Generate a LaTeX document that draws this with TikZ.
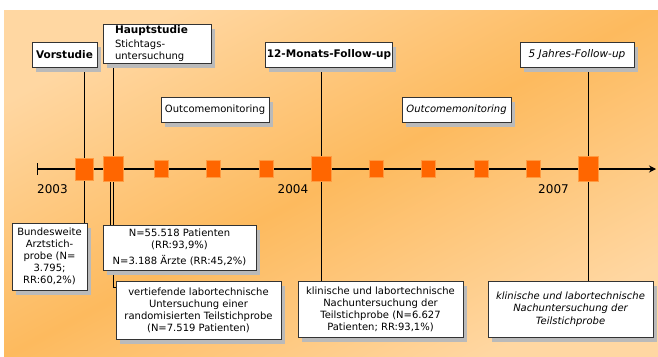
\documentclass[tikz,border=0pt]{standalone}
\usepackage{fontspec}
\setmainfont{DejaVu Sans}
\usetikzlibrary{arrows.meta,shadows,positioning}

\definecolor{peachlight}{HTML}{FFD7A2}
\definecolor{peachdark}{HTML}{FDBA5E}
\definecolor{evorange}{HTML}{FF6600}
\definecolor{evedge}{HTML}{FF9A40}
\definecolor{boxline}{HTML}{333333}

\pgfdeclarelayer{paper}
\pgfdeclarelayer{lines}
\pgfsetlayers{paper,lines,main}

\begin{document}
\begin{tikzpicture}[
    x=1pt, y=-1pt,
    box/.style={draw=boxline, fill=white, rectangle, line width=0.9pt, inner sep=1pt, align=center,
        font=\fontsize{10}{12}\selectfont,
        drop shadow={shadow xshift=3.5pt, shadow yshift=-4.5pt, fill=black!27, opacity=1}},
    title/.style={box, font=\fontsize{10.5}{12}\selectfont\bfseries},
    quart/.style={draw=evedge, fill=evorange, line width=0.8pt, minimum width=14pt, minimum height=17pt, inner sep=0pt},
    pre/.style={quart, minimum width=18pt, minimum height=22pt},
    event/.style={quart, minimum width=20pt, minimum height=25pt},
    year/.style={font=\fontsize{12}{14}\selectfont, inner sep=0pt},
    link/.style={draw=black, line width=0.8pt},
    axis/.style={line width=1.2pt, {Bar[width=12pt]}-{Stealth[length=7pt, width=7pt]}}
]
\useasboundingbox (0,0) rectangle (658,356);

% Background (drawn with an upward y axis so the shading is not flipped)
\begin{pgfonlayer}{paper}
\begin{scope}[y=1pt]
\shade[top color=peachlight, bottom color=peachlight, middle color=peachdark, shading angle=28] (4,-356) rectangle (658,-10);
\end{scope}
\end{pgfonlayer}

% Time axis
\coordinate (axstart) at (37,169);
\coordinate (axend) at (656,169);

% Markers
\node[pre] (m0) at (84,169) {};
\node[event] (m1) at (113,169) {};
\node[event] (m2) at (321,169) {};
\node[event] (m3) at (588,169) {};
\foreach \x [count=\i] in {161,213,266,376,428,481,533}
    \node[quart] (q\i) at (\x,169) {};

% Milestones
\node[title, minimum width=65pt, minimum height=25pt] (vor) at (64.5,54.5) {Vorstudie};
\node[box, align=left, text width=84pt, inner xsep=12pt, minimum height=39pt] (haupt) at (157,43.5)
    {{\fontsize{10.5}{12}\selectfont\bfseries Hauptstudie}\\[2pt]Stichtags-\\untersuchung};
\node[title, minimum width=126pt, minimum height=25pt] (mon12) at (329,54.5) {12-Monats-Follow-up};
\node[box, minimum width=114pt, minimum height=25pt, font=\fontsize{10.5}{12}\selectfont\itshape] (jahr5) at (577,54.5) {5 Jahres-Follow-up};

% Outcome monitoring
\node[box, minimum width=108pt, minimum height=25pt] (out1) at (215,109.5) {Outcomemonitoring};
\node[box, minimum width=109pt, minimum height=25pt, font=\fontsize{10}{12}\selectfont\itshape] (out2) at (456.5,109.5) {Outcomemonitoring};

% Samples
\node[box, minimum width=75pt, minimum height=67pt] (bund) at (49.5,256.5)
    {Bundesweite\\Arztstich-\\probe (N=\\3.795;\\RR:60,2\%)};
\node[box, minimum width=153pt, minimum height=45pt] (npat) at (179.5,247.5)
    {N=55.518 Patienten\\(RR:93,9\%)\\[4pt]N=3.188 Ärzte (RR:45,2\%)};
\node[box, minimum width=165pt, minimum height=58pt] (vert) at (198.5,310)
    {vertiefende labortechnische\\Untersuchung einer\\randomisierten Teilstichprobe\\(N=7.519 Patienten)};
\node[box, minimum width=165pt, minimum height=56pt] (klin12) at (380.5,309)
    {klinische und labortechnische\\Nachuntersuchung der\\Teilstichprobe (N=6.627\\Patienten; RR:93,1\%)};
\node[box, minimum width=165pt, minimum height=56pt, font=\fontsize{10}{12.5}\selectfont\itshape] (klin5) at (570.5,309)
    {klinische und labortechnische\\Nachuntersuchung der\\Teilstichprobe};

% Years
\node[year] (y2003) at (52.5,189) {2003};
\node[year] (y2004) at (293,189) {2004};
\node[year] (y2007) at (553.5,189) {2007};

% Connectors
\begin{pgfonlayer}{lines}
\draw[axis] (axstart) -- (axend);
\draw[link] (vor.south -| m0) -- (bund.north -| m0);
\draw[link] (haupt.south -| m1) -- (m1);
\draw[link] ([xshift=-2.5pt]m1.center) -- ([xshift=-2.5pt]m1.center |- npat.north);
\draw[link] (m1.center) |- ([yshift=-7pt]vert.north west);
\draw[link] (mon12.south -| m2) -- (klin12.north -| m2);
\draw[link] (jahr5.south -| m3) -- (klin5.north -| m3);
\end{pgfonlayer}
\end{tikzpicture}
\end{document}
